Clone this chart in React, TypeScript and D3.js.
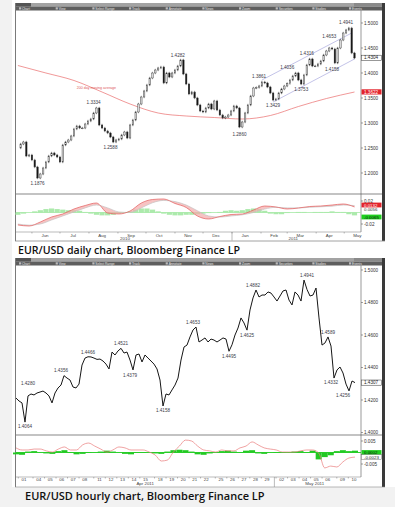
import * as d3 from 'd3'
import { type ReactElement } from 'react'

// ---- daily chart data: one close every 3 calendar days from 17 May 2010 ----
const dailyStart = new Date(2010, 4, 17)
const dailyEnd = new Date(2011, 4, 12)
const dailyStepDays = 3
const dailyClose = [
  1.25, 1.258, 1.262, 1.234, 1.236, 1.226, 1.212, 1.19, 1.198, 1.21,
  1.222, 1.234, 1.24, 1.236, 1.232, 1.222, 1.256, 1.262, 1.266, 1.274,
  1.288, 1.294, 1.29, 1.29, 1.298, 1.304, 1.308, 1.32, 1.33, 1.296,
  1.29, 1.284, 1.28, 1.272, 1.262, 1.266, 1.268, 1.276, 1.282, 1.27,
  1.296, 1.306, 1.322, 1.338, 1.352, 1.364, 1.376, 1.39, 1.4, 1.406,
  1.41, 1.412, 1.38, 1.4, 1.392, 1.4, 1.406, 1.414, 1.426, 1.398,
  1.378, 1.358, 1.362, 1.35, 1.336, 1.324, 1.322, 1.33, 1.338, 1.328,
  1.344, 1.326, 1.316, 1.31, 1.312, 1.316, 1.324, 1.334, 1.33, 1.292,
  1.302, 1.32, 1.336, 1.354, 1.37, 1.371, 1.374, 1.382, 1.38, 1.372,
  1.36, 1.346, 1.348, 1.36, 1.368, 1.374, 1.379, 1.386, 1.394, 1.4,
  1.386, 1.378, 1.396, 1.416, 1.428, 1.414, 1.414, 1.418, 1.424, 1.436,
  1.444, 1.45, 1.448, 1.42, 1.45, 1.466, 1.48, 1.486, 1.49, 1.44,
  1.43,
]
// 200 day moving average, one value every 10 closes
const dailyMa200 = [1.415, 1.4, 1.385, 1.362, 1.338, 1.32, 1.314, 1.311, 1.308, 1.315, 1.333, 1.349, 1.362]
const maEvery = 10
// MACD and signal, one value every 4 closes
const dailyMacd = [
  -0.0217, -0.0235, -0.0165, -0.0078, -0.0026, 0.0061, 0.0122, 0.0165, -0.0009, -0.0026,
  0.0026, 0.0165, 0.0226, 0.0235, 0.0157, 0.0087, -0.0061, -0.0113, -0.007, -0.0035,
  -0.0026, 0.0043, 0.0113, 0.0096, 0.0061, 0.0078, 0.0104, 0.0113, 0.013, 0.0148, 0.0096,
]
const dailySignal = [
  -0.02, -0.022, -0.02, -0.013, -0.006, 0.001, 0.008, 0.013, 0.008, 0.001,
  0.0, 0.008, 0.017, 0.021, 0.019, 0.013, 0.003, -0.006, -0.008, -0.006,
  -0.004, 0.0, 0.006, 0.009, 0.008, 0.008, 0.009, 0.01, 0.011, 0.013, 0.012,
]
const macdEvery = 4
// histogram, one value every 2 closes
const dailyHist = [
  -0.004, -0.002, 0.0, 0.002, 0.004, 0.006, 0.007, 0.006, 0.005, 0.004,
  0.004, 0.003, 0.001, -0.002, -0.004, -0.005, -0.005, -0.004, -0.002, 0.0,
  0.002, 0.005, 0.007, 0.007, 0.005, 0.002, -0.002, -0.004, -0.005, -0.005,
  -0.004, -0.004, -0.003, -0.002, -0.001, 0.0, 0.001, 0.003, 0.004, 0.003,
  0.004, 0.006, 0.007, 0.006, 0.003, -0.002, -0.003, -0.003, -0.001, 0.0,
  0.001, 0.001, 0.0, 0.001, 0.001, 0.001, 0.002, 0.001, 0.001, -0.003, -0.005,
]
const histEvery = 2
const dailyTicks = [1.2, 1.25, 1.3, 1.35, 1.4, 1.45, 1.5]
const dailyIndTicks = [-0.02, 0.02]
const dailyMonths = ['Jun', 'Jul', 'Aug', 'Sep', 'Oct', 'Nov', 'Dec', 'Jan', 'Feb', 'Mar', 'Apr', 'May']
const dailyYears = ['2010', '2011']
const dailyNotes = [
  { label: '1.1876', i: 7, side: 'low' },
  { label: '1.3334', i: 27, side: 'high' },
  { label: '1.2588', i: 33, side: 'low' },
  { label: '1.4282', i: 57, side: 'high' },
  { label: '1.2860', i: 79, side: 'low' },
  { label: '1.3861', i: 86, side: 'high' },
  { label: '1.3429', i: 91, side: 'low' },
  { label: '1.4036', i: 96, side: 'high' },
  { label: '1.3753', i: 101, side: 'low' },
  { label: '1.4316', i: 103, side: 'high' },
  { label: '1.4158', i: 112, side: 'low' },
  { label: '1.4653', i: 111, side: 'high' },
  { label: '1.4941', i: 117, side: 'high' },
]
const channelUpper = [{ i: 87, v: 1.386 }, { i: 119, v: 1.48 }]
const channelLower = [{ i: 91, v: 1.342 }, { i: 120, v: 1.428 }]
const dailyBoxes = ['1.4304', '1.3622']
const dailyIndBoxes = ['0.0132', '0.0056', '-0.0065']

// ---- hourly chart data ----
const hourlyClose = [
  1.4212, 1.4194, 1.4182, 1.4064, 1.4225, 1.4237, 1.4231, 1.4243, 1.4249, 1.4255,
  1.4243, 1.4225, 1.4182, 1.4243, 1.4274, 1.4292, 1.435, 1.4335, 1.4323, 1.428,
  1.4274, 1.4298, 1.4415, 1.4458, 1.4466, 1.4465, 1.4458, 1.445, 1.4452, 1.444,
  1.4421, 1.4391, 1.4495, 1.4477, 1.4502, 1.4518, 1.4489, 1.4495, 1.4446, 1.4385,
  1.4477, 1.4483, 1.4434, 1.4477, 1.4458, 1.444, 1.4421, 1.4391, 1.4323, 1.4163,
  1.4237, 1.4231, 1.4262, 1.4292, 1.4335, 1.4446, 1.4526, 1.4538, 1.4588, 1.4631,
  1.4649, 1.4557, 1.4569, 1.4582, 1.4557, 1.4575, 1.4569, 1.4557, 1.4569, 1.4582,
  1.4575, 1.45, 1.454, 1.46, 1.4643, 1.4705, 1.4674, 1.463, 1.4754, 1.4828,
  1.4877, 1.4834, 1.4846, 1.4846, 1.4865, 1.4858, 1.4834, 1.4809, 1.484, 1.4871,
  1.4877, 1.4815, 1.4785, 1.4865, 1.4846, 1.4809, 1.4938, 1.488, 1.484, 1.4846,
  1.4889, 1.4705, 1.4538, 1.4551, 1.4588, 1.4532, 1.4335, 1.4385, 1.4403, 1.4366,
  1.4298, 1.4256, 1.4317, 1.4307,
]
const hourlyMacd = [
  0.002, 0.0011, 0.0011, 0.0015, 0.0015, 0.0007, 0.0002, 0.0015, 0.0024, 0.0011,
  0.0011, 0.0033, 0.0041, 0.0028, 0.0015, 0.0002, 0.0011, 0.0024, 0.002, 0.0011,
  0.0011, 0.0011, 0.0002, -0.0011, -0.0037, -0.0033, 0.0002, 0.0028, 0.0054, 0.005,
  0.0028, 0.0011, 0.0007, 0.0002, 0.0011, 0.0007, 0.0007, 0.002, 0.0028, 0.0046,
  0.0033, 0.002, 0.0015, 0.0011, 0.0002, 0.0002, 0.0002, 0.0007, 0.0011, 0.0011,
  -0.0002, -0.0067, -0.0059, -0.0063, -0.0041, -0.0024, -0.002,
]
const hourlyHist = [
  -0.0008, -0.001, 0.0004, 0.0006, 0.0, -0.0004, -0.0006, 0.0006, 0.001, 0.0002,
  -0.0008, -0.0006, 0.0002, 0.0, 0.0004, 0.0008, 0.0004, 0.0, -0.0006, -0.0008,
  -0.0002, 0.0002, 0.0, -0.0004, -0.0006, 0.0004, 0.001, 0.0012, 0.001, 0.0004,
  -0.0008, -0.001, -0.0004, 0.0, 0.0006, 0.0008, 0.0004, 0.0002, 0.0008, 0.001,
  -0.0004, -0.0006, 0.0, 0.0002, 0.0002, 0.0, 0.0004, 0.0006, 0.0002, 0.0008,
  -0.003, -0.002, -0.0012, 0.0006, 0.001, 0.0006, 0.0008,
]
const hourlyDays = [
  '2011-04-01', '2011-04-04', '2011-04-05', '2011-04-06', '2011-04-07', '2011-04-08',
  '2011-04-11', '2011-04-12', '2011-04-13', '2011-04-14', '2011-04-15',
  '2011-04-18', '2011-04-19', '2011-04-20', '2011-04-21', '2011-04-22',
  '2011-04-25', '2011-04-26', '2011-04-27', '2011-04-28', '2011-04-29',
  '2011-05-02', '2011-05-03', '2011-05-04', '2011-05-05', '2011-05-06',
  '2011-05-09', '2011-05-10',
]
const hourlyMonths = ['Apr 2011', 'May 2011']
const hourlyTicks = [1.4, 1.42, 1.44, 1.46, 1.48, 1.5]
const hourlyIndTicks = [-0.005, 0.005]
const hourlyNotes = [
  { label: '1.4064', j: 3, side: 'low' },
  { label: '1.4280', j: 4, side: 'high' },
  { label: '1.4356', j: 15, side: 'high' },
  { label: '1.4466', j: 24, side: 'high' },
  { label: '1.4521', j: 35, side: 'high' },
  { label: '1.4379', j: 38, side: 'low' },
  { label: '1.4158', j: 49, side: 'low' },
  { label: '1.4653', j: 59, side: 'high' },
  { label: '1.4495', j: 71, side: 'low' },
  { label: '1.4625', j: 77, side: 'low' },
  { label: '1.4882', j: 79, side: 'high' },
  { label: '1.4941', j: 97, side: 'high' },
  { label: '1.4589', j: 104, side: 'high' },
  { label: '1.4332', j: 105, side: 'low' },
  { label: '1.4256', j: 109, side: 'low' },
]
const hourlyBoxes = ['1.4307']
const hourlyIndBoxes = ['0.0002', '-0.0023']

const toolbarItems = ['Chart', 'View', 'Select Range', 'Track', 'Annotate', 'News', 'Zoom', 'Securities', 'Studies', 'Events']

const axisFont = 'Liberation Sans, Arial, sans-serif'
const captionFont = '"Open Sans", "Noto Sans", sans-serif'

function Toolbar({ y }: { y: number }): ReactElement {
  const xs = d3.scalePoint<string>().domain(toolbarItems).range([24, 354])
  return (
    <g>
      <rect x={15} y={y} width={370} height={3.5} fill="#a3a3a3" />
      <rect x={15} y={y + 3.5} width={370} height={4} fill="#5e5e5e" />
      <rect x={15} y={y} width={16} height={3.5} fill="#555" />
      <rect x={354} y={y} width={28} height={3.5} fill="#8a8a8a" />
      {toolbarItems.map((t) => (
        <g key={t}>
          <rect x={(xs(t) ?? 0) - 5} y={y + 4.3} width={2.2} height={2.2} fill="#bbb" />
          <text x={(xs(t) ?? 0) - 2} y={y + 6.7} fontSize={3.2} fill="#e4e4e4" fontFamily={axisFont}>
            {t}
          </text>
        </g>
      ))}
    </g>
  )
}

function Note({ x, y, label }: { x: number; y: number; label: string }): ReactElement {
  return (
    <text x={x} y={y + 1.6} fontSize={4.6} fill="#3a3a48" textAnchor="middle" fontFamily={axisFont}>
      {label}
    </text>
  )
}

export default function App(): ReactElement {
  // ---------- daily scales ----------
  const dailyDate = (i: number) => d3.timeDay.offset(dailyStart, i * dailyStepDays)
  const xD = d3.scaleTime().domain([dailyStart, dailyEnd]).range([17.9, 354.5])
  const yD = d3.scaleLinear().domain([1.2, 1.5]).range([173, 23])
  const yDI = d3.scaleLinear().domain([-0.02, 0.02]).range([224, 201])

  const maLine = d3
    .line<number>()
    .x((_, k) => xD(dailyDate(k * maEvery)))
    .y((v) => yD(v))
    .curve(d3.curveMonotoneX)
  const macdLine = d3
    .line<number>()
    .x((_, k) => xD(dailyDate(k * macdEvery)))
    .y((v) => yDI(v))
    .curve(d3.curveMonotoneX)
  const macdArea = d3
    .area<number>()
    .x((_, k) => xD(dailyDate(k * macdEvery)))
    .y0((_, k) => yDI(dailySignal[k]))
    .y1((v) => yDI(v))
    .curve(d3.curveMonotoneX)
  const chanLine = d3
    .line<{ i: number; v: number }>()
    .x((d) => xD(dailyDate(d.i)))
    .y((d) => yD(d.v))

  // ---------- hourly scales ----------
  const xH = d3.scaleLinear().domain([0, hourlyClose.length - 1]).range([16, 355])
  const xHI = d3.scaleLinear().domain([0, hourlyMacd.length - 1]).range([16, 355])
  const yH = d3.scaleLinear().domain([1.4, 1.5]).range([432.5, 270])
  const yHI = d3.scaleLinear().domain([-0.005, 0.005]).range([464, 441])
  const parseDay = d3.timeParse('%Y-%m-%d')
  const dayDates = hourlyDays.map((s) => parseDay(s) as Date)
  // trading-day position, weekends add a small gap
  const dayPos: number[] = []
  dayDates.forEach((d, k) => {
    if (k === 0) dayPos.push(0)
    else {
      const gap = d3.timeDay.count(dayDates[k - 1], d)
      dayPos.push(dayPos[k - 1] + 1 + (gap > 1 ? 0.28 : 0))
    }
  })
  const xDay = d3.scaleLinear().domain([0, dayPos[dayPos.length - 1]]).range([24, 354])
  const hourLine = d3
    .line<number>()
    .x((_, j) => xH(j))
    .y((v) => yH(v))
  const hourMacdLine = d3
    .line<number>()
    .x((_, k) => xHI(k))
    .y((v) => yHI(v))
    .curve(d3.curveMonotoneX)
  const fmtDay = d3.timeFormat('%d')
  const monthSplit = dayDates.findIndex((d) => d.getMonth() === 4)
  const monthSplitX = (xDay(dayPos[monthSplit - 1]) + xDay(dayPos[monthSplit])) / 2

  const noteY = (scale: d3.ScaleLinear<number, number>, label: string, side: string) =>
    scale(+label) + (side === 'high' ? -4 : 4)

  return (
    <svg width={395} height={507} style={{ position: 'absolute', left: 0, top: 0 }}>
      <rect width={395} height={507} fill="#ffffff" />
      <rect x={0} y={0} width={12} height={507} fill="#f2f2f2" />
      <rect x={12} y={487} width={383} height={20} fill="#f2f2f2" />

      {/* ================= DAILY CHART ================= */}
      <rect x={15} y={3} width={370} height={238} fill="#fff" />
      <Toolbar y={3} />
      <line x1={15.5} y1={3} x2={15.5} y2={241} stroke="#7a7a7a" strokeWidth={1} />
      <rect x={382} y={3} width={3} height={238} fill="#3a3a3a" />
      <line x1={15} y1={241} x2={385} y2={241} stroke="#8a8a8a" strokeWidth={0.8} />
      <line x1={361} y1={10.5} x2={361} y2={232} stroke="#555" strokeWidth={0.6} />
      <line x1={16} y1={194} x2={382} y2={194} stroke="#555" strokeWidth={0.7} />
      <line x1={16} y1={232} x2={361} y2={232} stroke="#777" strokeWidth={0.5} />

      {/* moving average */}
      <path d={maLine(dailyMa200) ?? ''} fill="none" stroke="#ea6b6b" strokeWidth={0.7} />
      <text x={xD(dailyDate(28))} y={yD(1.37) + 1.3} fontSize={3.6} fill="#e05a5a" textAnchor="middle" fontFamily={axisFont}>
        200 day moving average
      </text>
      {/* channel */}
      <path d={chanLine(channelUpper) ?? ''} fill="none" stroke="#a9a9de" strokeWidth={0.7} />
      <path d={chanLine(channelLower) ?? ''} fill="none" stroke="#a9a9de" strokeWidth={0.7} />

      {/* candles */}
      {dailyClose.map((c, i) => {
        if (i === 0) return null
        const o = dailyClose[i - 1]
        const x = xD(dailyDate(i))
        const y1 = yD(Math.max(o, c))
        const y2 = yD(Math.min(o, c))
        const up = c >= o
        return (
          <g key={i}>
            <line x1={x} x2={x} y1={y1 - 1.2} y2={y2 + 1.2} stroke="#333" strokeWidth={0.5} />
            <rect
              x={x - 0.75}
              y={y1}
              width={1.5}
              height={Math.max(0.8, y2 - y1)}
              fill={up ? '#d8d8d8' : '#151515'}
              stroke="#333"
              strokeWidth={0.4}
            />
          </g>
        )
      })}

      {dailyNotes.map((n) => (
        <Note key={n.label} x={xD(dailyDate(n.i))} y={noteY(yD, n.label, n.side)} label={n.label} />
      ))}

      {/* right axis */}
      {dailyTicks.map((t) => (
        <g key={t}>
          <line x1={361} x2={363} y1={yD(t)} y2={yD(t)} stroke="#444" strokeWidth={0.5} />
          <text x={364} y={yD(t) + 1.6} fontSize={4.6} fill="#333" fontFamily={axisFont}>
            {t.toFixed(4)}
          </text>
        </g>
      ))}
      <rect x={361.5} y={yD(1.4304) - 2.6} width={20} height={5.2} fill="#fff" stroke="#333" strokeWidth={0.5} />
      <text x={364} y={yD(1.4304) + 1.6} fontSize={4.6} fill="#222" fontFamily={axisFont}>
        {dailyBoxes[0]}
      </text>
      <rect x={361.5} y={yD(1.3622) - 2.6} width={20} height={5.2} fill="#e3232b" />
      <text x={364} y={yD(1.3622) + 1.6} fontSize={4.6} fill="#fff" fontFamily={axisFont}>
        {dailyBoxes[1]}
      </text>

      {/* indicator */}
      <line x1={16} x2={361} y1={yDI(0)} y2={yDI(0)} stroke="#a6e8a6" strokeWidth={0.8} />
      {dailyHist.map((v, k) => {
        const x = xD(dailyDate(k * histEvery))
        const y0 = yDI(0)
        const y1 = yDI(v)
        return (
          <rect key={k} x={x - 2.6} width={5.2} y={Math.min(y0, y1)} height={Math.abs(y1 - y0)} fill="#9de69d" opacity={0.85} />
        )
      })}
      <path d={macdArea(dailyMacd) ?? ''} fill="#f3aaaa" opacity={0.7} />
      <path d={macdLine(dailySignal) ?? ''} fill="none" stroke="#c4c4c4" strokeWidth={0.7} />
      <path d={macdLine(dailyMacd) ?? ''} fill="none" stroke="#e25b5b" strokeWidth={0.7} />
      {dailyIndTicks.map((t) => (
        <g key={t}>
          <line x1={361} x2={363} y1={yDI(t)} y2={yDI(t)} stroke="#444" strokeWidth={0.5} />
          <text x={364} y={yDI(t) + 1.6} fontSize={4.6} fill="#333" fontFamily={axisFont}>
            {t.toFixed(2)}
          </text>
        </g>
      ))}
      <rect x={361.5} y={205 - 2.4} width={20} height={4.8} fill="#e3232b" />
      <text x={364} y={205 + 1.5} fontSize={4.4} fill="#fff" fontFamily={axisFont}>
        {dailyIndBoxes[0]}
      </text>
      <text x={364} y={209.5 + 1.5} fontSize={4.4} fill="#333" fontFamily={axisFont}>
        {dailyIndBoxes[1]}
      </text>
      <rect x={361.5} y={217 - 2.4} width={20} height={4.8} fill="#1fcf1f" />
      <text x={364} y={217 + 1.5} fontSize={4.4} fill="#111" fontFamily={axisFont}>
        {dailyIndBoxes[2]}
      </text>

      {/* bottom axis */}
      {dailyMonths.map((m, k) => {
        const start = new Date(2010, 5 + k, 1)
        const mid = new Date(2010, 5 + k, 15)
        return (
          <g key={m + k}>
            <line x1={xD(start)} x2={xD(start)} y1={232} y2={233.5} stroke="#777" strokeWidth={0.5} />
            <text x={xD(mid)} y={236.6} fontSize={4.4} fill="#444" textAnchor="middle" fontFamily={axisFont}>
              {m}
            </text>
          </g>
        )
      })}
      <line x1={xD(new Date(2011, 0, 1))} x2={xD(new Date(2011, 0, 1))} y1={232} y2={240.5} stroke="#777" strokeWidth={0.5} />
      <text x={(xD(dailyStart) + xD(new Date(2011, 0, 1))) / 2} y={240.3} fontSize={4.4} fill="#444" textAnchor="middle" fontFamily={axisFont}>
        {dailyYears[0]}
      </text>
      <text x={(xD(new Date(2011, 0, 1)) + xD(dailyEnd)) / 2} y={240.3} fontSize={4.4} fill="#444" textAnchor="middle" fontFamily={axisFont}>
        {dailyYears[1]}
      </text>

      <text x={18} y={254} fontSize={10.6} fontWeight={600} fill="#111" fontFamily={captionFont}>
        EUR/USD daily chart, Bloomberg Finance LP
      </text>

      {/* ================= HOURLY CHART ================= */}
      <rect x={15} y={258} width={370} height={229} fill="#fff" />
      <Toolbar y={258} />
      <line x1={15.5} y1={258} x2={15.5} y2={487} stroke="#7a7a7a" strokeWidth={1} />
      <rect x={382} y={258} width={3} height={229} fill="#3a3a3a" />
      <line x1={361} y1={265.5} x2={361} y2={477} stroke="#555" strokeWidth={0.6} />
      <line x1={16} y1={435} x2={382} y2={435} stroke="#555" strokeWidth={0.7} />
      <line x1={16} y1={477} x2={361} y2={477} stroke="#777" strokeWidth={0.5} />

      <path d={hourLine(hourlyClose) ?? ''} fill="none" stroke="#161616" strokeWidth={1} strokeLinejoin="round" />
      {hourlyNotes.map((n) => (
        <Note key={n.label} x={xH(n.j)} y={noteY(yH, n.label, n.side)} label={n.label} />
      ))}

      {hourlyTicks.map((t) => (
        <g key={t}>
          <line x1={361} x2={363} y1={yH(t)} y2={yH(t)} stroke="#444" strokeWidth={0.5} />
          <text x={364} y={yH(t) + 1.6} fontSize={4.6} fill="#333" fontFamily={axisFont}>
            {t.toFixed(4)}
          </text>
        </g>
      ))}
      <rect x={361.5} y={yH(1.4307) - 2.6} width={20} height={5.2} fill="#fff" stroke="#333" strokeWidth={0.5} />
      <text x={364} y={yH(1.4307) + 1.6} fontSize={4.6} fill="#222" fontFamily={axisFont}>
        {hourlyBoxes[0]}
      </text>

      {/* hourly indicator */}
      <line x1={16} x2={361} y1={yHI(0)} y2={yHI(0)} stroke="#2fd02f" strokeWidth={1} />
      {hourlyHist.map((v, k) => {
        const y0 = yHI(0)
        const y1 = yHI(v)
        return (
          <rect key={k} x={xHI(k) - 3} width={6} y={Math.min(y0, y1)} height={Math.abs(y1 - y0)} fill="#22c922" />
        )
      })}
      <path d={hourMacdLine(hourlyMacd) ?? ''} fill="none" stroke="#ea7a7a" strokeWidth={0.7} />
      {hourlyIndTicks.map((t) => (
        <g key={t}>
          <line x1={361} x2={363} y1={yHI(t)} y2={yHI(t)} stroke="#444" strokeWidth={0.5} />
          <text x={364} y={yHI(t) + 1.6} fontSize={4.6} fill="#333" fontFamily={axisFont}>
            {t.toFixed(3)}
          </text>
        </g>
      ))}
      <rect x={361.5} y={yHI(0) - 2.4} width={20} height={4.8} fill="#1fcf1f" />
      <text x={364} y={yHI(0) + 1.5} fontSize={4.4} fill="#111" fontFamily={axisFont}>
        {hourlyIndBoxes[0]}
      </text>
      <rect x={361.5} y={457 - 2.4} width={20} height={4.8} fill="#fff" stroke="#555" strokeWidth={0.4} />
      <text x={364} y={457 + 1.5} fontSize={4.4} fill="#222" fontFamily={axisFont}>
        {hourlyIndBoxes[1]}
      </text>

      {/* hourly date axis */}
      {dayDates.map((d, k) => (
        <g key={k}>
          <line x1={xDay(dayPos[k]) - 5.7} x2={xDay(dayPos[k]) - 5.7} y1={477} y2={478.5} stroke="#777" strokeWidth={0.5} />
          <text x={xDay(dayPos[k])} y={480.8} fontSize={4.4} fill="#444" textAnchor="middle" fontFamily={axisFont}>
            {fmtDay(d)}
          </text>
        </g>
      ))}
      <line x1={monthSplitX} x2={monthSplitX} y1={477} y2={487} stroke="#777" strokeWidth={0.5} />
      <text x={(16 + monthSplitX) / 2} y={485} fontSize={4.4} fill="#444" textAnchor="middle" fontFamily={axisFont}>
        {hourlyMonths[0]}
      </text>
      <text x={(monthSplitX + 355) / 2} y={485} fontSize={4.4} fill="#444" textAnchor="middle" fontFamily={axisFont}>
        {hourlyMonths[1]}
      </text>
      <line x1={15} y1={487} x2={385} y2={487} stroke="#8a8a8a" strokeWidth={0.6} />

      <text x={25} y={499.5} fontSize={11} fontWeight={600} fill="#111" fontFamily={captionFont}>
        EUR/USD hourly chart, Bloomberg Finance LP
      </text>
    </svg>
  )
}
